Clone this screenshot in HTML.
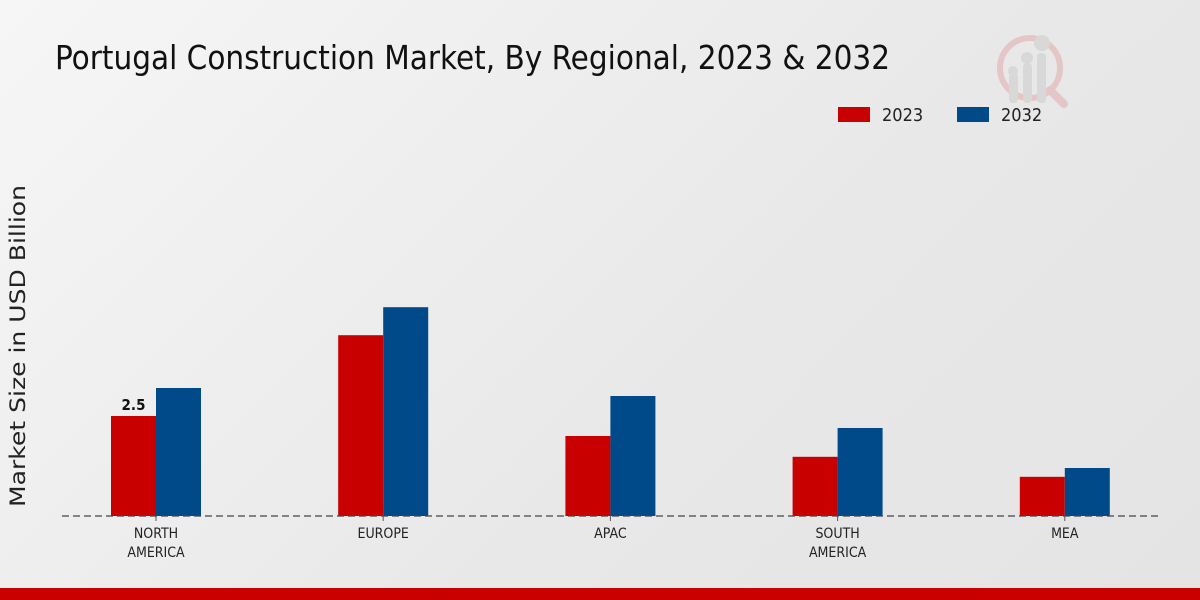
<!DOCTYPE html>
<html><head><meta charset="utf-8"><style>
html,body{margin:0;padding:0}
body{width:1200px;height:600px;overflow:hidden;background:linear-gradient(135deg,#f6f6f6 0%,#e8e8e8 60%,#e4e4e4 100%);font-family:"DejaVu Sans Condensed","Liberation Sans",sans-serif}
svg{display:block}
</style></head><body>
<svg width="1200" height="600">
<text x="55" y="69" font-size="33" fill="#111" textLength="835" lengthAdjust="spacingAndGlyphs">Portugal Construction Market, By Regional, 2023 &amp; 2032</text>
<g opacity="0.35">
<circle cx="1030" cy="68" r="30" fill="none" stroke="#d88" stroke-width="6"/>
<line x1="1050" y1="90" x2="1064" y2="104" stroke="#d88" stroke-width="8" stroke-linecap="round"/>
<rect x="1009" y="73" width="9" height="30" rx="4" fill="#bbb"/>
<rect x="1023" y="63" width="9" height="40" rx="4" fill="#bbb"/>
<rect x="1037" y="53" width="9" height="50" rx="4" fill="#bbb"/>
<circle cx="1013" cy="71" r="5" fill="#bbb"/><circle cx="1027" cy="58" r="6" fill="#bbb"/><circle cx="1042" cy="43" r="8" fill="#bbb"/>
</g>
<g>
<rect x="838" y="107" width="32" height="15" fill="#c80000"/>
<text x="882" y="121" font-size="18" fill="#222">2023</text>
<rect x="957" y="107" width="32" height="15" fill="#004a8a"/>
<text x="1001" y="121" font-size="18" fill="#222">2032</text>
</g>
<text transform="translate(25,346) rotate(-90)" text-anchor="middle" font-family="DejaVu Sans, sans-serif" font-size="21" fill="#222" textLength="322" lengthAdjust="spacingAndGlyphs">Market Size in USD Billion</text>
<g id="bars"></g>
<line x1="62" y1="516" x2="1160" y2="516" stroke="#444" stroke-width="1.2" stroke-dasharray="7,4"/>
<g id="labels"></g>
<rect x="0" y="588" width="1200" height="12" fill="#c80000"/>
</svg>
<script>
const categories=[["NORTH","AMERICA"],["EUROPE"],["APAC"],["SOUTH","AMERICA"],["MEA"]];
const values2023=[2.5,4.52,2.0,1.48,0.98];
const values2032=[3.2,5.22,3.0,2.2,1.2];
const shownLabels=["2.5",null,null,null,null];
const NS="http://www.w3.org/2000/svg";
const base=516, ppu=40, x0=156, step=227.2, bw=45;
const yScale=v=>base-v*ppu;
const xCenter=i=>x0+i*step;
const bars=document.getElementById('bars'), labels=document.getElementById('labels');
function mk(t,a){const e=document.createElementNS(NS,t);for(const k in a)e.setAttribute(k,a[k]);return e;}
categories.forEach((c,i)=>{
  const cx=xCenter(i);
  const r=mk('rect',{x:cx-bw,y:yScale(values2023[i]),width:bw,height:base-yScale(values2023[i]),fill:'#c80000'});
  
  
  bars.appendChild(r);
  const b=mk('rect',{x:cx,y:yScale(values2032[i]),width:bw,height:base-yScale(values2032[i]),fill:'#004a8a'});
  
  
  bars.appendChild(b);
  if(shownLabels[i]){
    const t=mk('text',{x:cx-bw/2,y:yScale(values2023[i])-6,'text-anchor':'middle','font-size':'15','font-weight':'bold',fill:'#111'});
    t.textContent=shownLabels[i];
    
    
    labels.appendChild(t);
  }
  const tk=mk('line',{x1:cx,y1:base,x2:cx,y2:base+5,stroke:'#555'});
  
  
  labels.appendChild(tk);
  c.forEach((ln,j)=>{
    const t=mk('text',{x:cx,y:538+j*19,'text-anchor':'middle','font-size':'14',fill:'#222'});
    t.textContent=ln;
    
    
    labels.appendChild(t);
  });
});
</script>
</body></html>
